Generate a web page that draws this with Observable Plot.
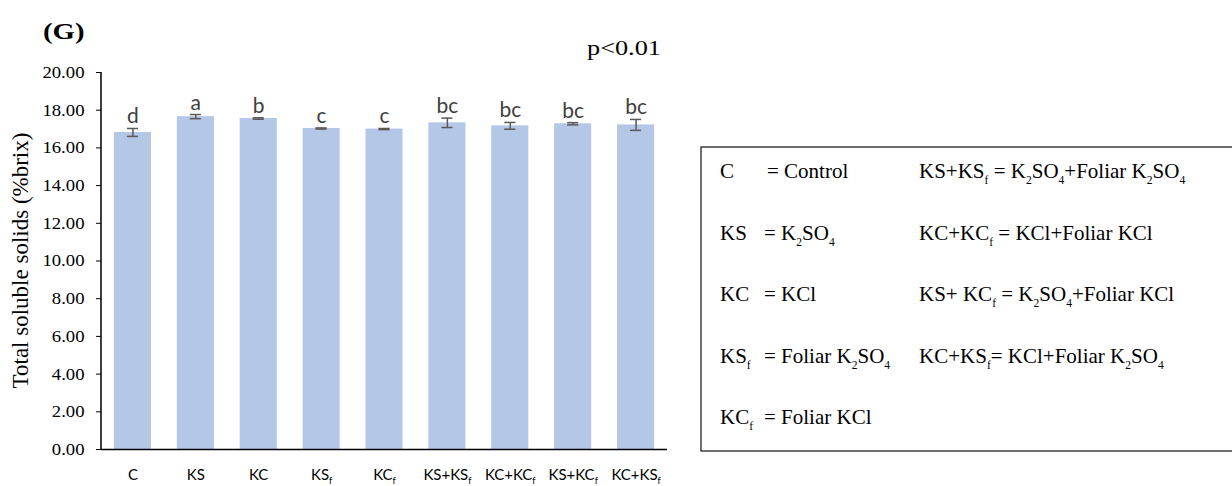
<!DOCTYPE html>
<html>
<head>
<meta charset="utf-8">
<script src="https://cdn.jsdelivr.net/npm/d3@7"></script>
<script src="https://cdn.jsdelivr.net/npm/@observablehq/plot@0.6"></script>
<style>
  html, body { margin: 0; padding: 0; background: #fff; }
  #chart { width: 1232px; height: 486px; overflow: hidden; }
  svg { display: block; }
</style>
</head>
<body>
<div id="chart"></div>
<script>
// ---- data ----
const categories = ["C", "KS", "KC", "KS_{f}", "KC_{f}", "KS+KS_{f}", "KC+KC_{f}", "KS+KC_{f}", "KC+KS_{f}"];
const means      = [16.82, 17.66, 17.56, 17.03, 17.00, 17.33, 17.17, 17.28, 17.22];
const errors     = [0.21, 0.11, 0.04, 0.03, 0.03, 0.25, 0.18, 0.06, 0.29];
const letters    = ["d", "a", "b", "c", "c", "bc", "bc", "bc", "bc"];
const yTicks     = [0, 2, 4, 6, 8, 10, 12, 14, 16, 18, 20];

const legendCol1Keys = ["C", "KS", "KC", "KS_{f}", "KC_{f}"];
const legendCol1Vals = ["= Control", "= K_{2}SO_{4}", "= KCl", "= Foliar K_{2}SO_{4}", "= Foliar KCl"];
const legendCol2 = [
  "KS+KS_{f} = K_{2}SO_{4}+Foliar K_{2}SO_{4}",
  "KC+KC_{f} = KCl+Foliar KCl",
  "KS+ KC_{f} = K_{2}SO_{4}+Foliar KCl",
  "KC+KS_{f}= KCl+Foliar K_{2}SO_{4}"
];

const table = categories.map((c, i) => ({cat: c, mean: means[i], se: errors[i], letter: letters[i]}));

const SERIF = "'Liberation Serif', 'Times New Roman', serif";
const SANS = "Lato, 'Open Sans', sans-serif";

const plot = Plot.plot({
  width: 1232,
  height: 486,
  marginLeft: 101,
  marginRight: 565,
  marginTop: 72,
  marginBottom: 37,
  style: {background: "#fff", overflow: "visible"},
  x: {domain: categories, paddingInner: 0.41, paddingOuter: 0.205, round: false},
  y: {domain: [0, 20]},
  marks: [
    Plot.barY(table, {x: "cat", y: "mean", fill: "#B4C7E7"}),
    Plot.ruleX(table, {x: "cat", y1: d => d.mean - d.se, y2: d => d.mean + d.se, stroke: "#595959", strokeWidth: 1.5}),
    Plot.tickY(table, {x: "cat", y: d => d.mean - d.se, stroke: "#595959", strokeWidth: 1.5, insetLeft: 13, insetRight: 13}),
    Plot.tickY(table, {x: "cat", y: d => d.mean + d.se, stroke: "#595959", strokeWidth: 1.5, insetLeft: 13, insetRight: 13}),
    Plot.text(table, {x: "cat", y: d => d.mean + d.se, text: "letter", lineAnchor: "bottom", dy: -5,
      fill: "#404040", fontSize: 21, fontFamily: SANS}),
    Plot.ruleY([0], {stroke: "#000", strokeWidth: 1.5}),
    Plot.axisY({ticks: yTicks, tickFormat: d => d.toFixed(2), tickSize: 5, tickPadding: 12, label: null,
      stroke: "#000", fill: "#000", fontSize: 17, fontFamily: SERIF}),
    Plot.axisX({tickSize: 0, tickPadding: 20, label: null, fill: "#000", fontSize: 15, fontFamily: SANS})
  ]
});

document.getElementById("chart").appendChild(plot);

const svg = d3.select(plot);
const ys = plot.scale("y");

// rich text helper (subscripts)
function rich(textSel, str, size, subScale, shift) {
  textSel.text(null);
  const parts = str.split(/_\{([^}]*)\}/);
  let cur = 0;
  parts.forEach((p, i) => {
    if (!p) return;
    const isSub = i % 2 === 1;
    const target = isSub ? shift : 0;
    const t = textSel.append("tspan").text(p);
    if (target !== cur) t.attr("dy", target - cur);
    if (isSub) t.style("font-size", (size * subScale) + "px");
    cur = target;
  });
}

function styled(sel, family, size, weight) {
  return sel.style("font-family", family).style("font-size", size + "px")
    .style("font-weight", weight || "normal").attr("fill", "#000");
}

// widen glyphs horizontally (the reference's chart text is slightly stretched)
function stretch(node, k) {
  const w = node.getComputedTextLength();
  node.setAttribute("textLength", (w * k).toFixed(1));
  node.setAttribute("lengthAdjust", "spacingAndGlyphs");
}

svg.selectAll('g[aria-label="y-axis tick label"] text').each(function() {
  styled(d3.select(this), SERIF, 17);
  stretch(this, 1.1);
});
svg.selectAll('g[aria-label="x-axis tick label"] text').each(function() {
  const s = d3.select(this);
  const str = this.textContent;
  styled(s, SANS, 15);
  rich(s, str, 15, 0.6, 4);
});

// y axis line
svg.append("line")
  .attr("x1", 101).attr("x2", 101)
  .attr("y1", ys.apply(0) + 0.75).attr("y2", ys.apply(20))
  .attr("stroke", "#000").attr("stroke-width", 1.5);

// y axis title
styled(svg.append("text"), SERIF, 23)
  .attr("text-anchor", "middle")
  .attr("transform", `translate(28, ${(ys.apply(0) + ys.apply(20)) / 2}) rotate(-90)`)
  .text("Total soluble solids (%brix)");

// panel label
const g = styled(svg.append("text"), SERIF, 24, "bold")
  .attr("text-anchor", "start")
  .attr("x", 43).attr("y", 39)
  .text("(G)");
stretch(g.node(), 1.2);

// p value
const p = styled(svg.append("text"), SERIF, 21)
  .attr("text-anchor", "start")
  .attr("x", 587).attr("y", 55)
  .text("p<0.01");
stretch(p.node(), 1.25);

// legend box
const lg = svg.append("g").attr("text-anchor", "start");
lg.append("rect")
  .attr("x", 701).attr("y", 147).attr("width", 560).attr("height", 304)
  .attr("fill", "none").attr("stroke", "#222").attr("stroke-width", 1.3);
const rowBase = [178, 239.5, 301, 362.5, 424];
function legendText(x, y, str) {
  const t = styled(lg.append("text"), SERIF, 21).attr("text-anchor", "start").attr("x", x).attr("y", y);
  rich(t, str, 21, 0.55, 6);
}
legendCol1Keys.forEach((k, i) => {
  legendText(720, rowBase[i], k);
  legendText(i === 0 ? 767 : 764, rowBase[i], legendCol1Vals[i]);
});
legendCol2.forEach((s, i) => legendText(919, rowBase[i], s));
</script>
</body>
</html>
